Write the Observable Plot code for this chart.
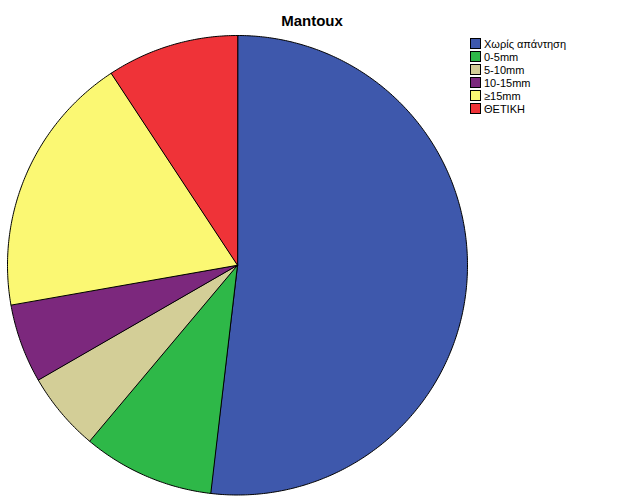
<!DOCTYPE html>
<html>
<head>
<meta charset="utf-8">
<script src="https://cdn.jsdelivr.net/npm/d3@7"></script>
<script src="https://cdn.jsdelivr.net/npm/@observablehq/plot@0.6"></script>
<style>
  body { margin: 0; background: #fff; font-family: Arial, "Liberation Sans", sans-serif; }
  #wrap { position: relative; width: 626px; height: 501px; }
  #title { position: absolute; left: 212px; width: 200px; top: 12px; text-align: center; font-weight: bold; font-size: 15px; color: #000; }
  #legend { position: absolute; left: 470px; top: 37px; font-size: 11px; color: #000; }
  .row { display: flex; align-items: center; height: 13px; }
  .sw { width: 9px; height: 9px; border: 1px solid #000; margin-right: 3px; box-sizing: content-box; }
</style>
</head>
<body>
<div id="wrap">
  <div id="chart"></div>
  <div id="title">Mantoux</div>
  <div id="legend"></div>
</div>
<script>
const categories = ["Χωρίς απάντηση", "0-5mm", "5-10mm", "10-15mm", "≥15mm", "ΘΕΤΙΚΗ"];
const counts = [28, 5, 3, 3, 10, 5];
const colors = ["#3E58AC", "#2EB848", "#D3CE97", "#7C287D", "#FBF873", "#EF3338"];

const pie = d3.pie().sort(null).value(d => d.value);
const arcs = pie(categories.map((c, i) => ({category: c, value: counts[i]})));

const pts = [];
for (const a of arcs) {
  const c = a.data.category;
  pts.push({category: c, x: 0, y: 0});
  const n = Math.max(4, Math.ceil((a.endAngle - a.startAngle) / 0.01));
  for (let k = 0; k <= n; k++) {
    const t = a.startAngle + (a.endAngle - a.startAngle) * k / n;
    pts.push({category: c, x: Math.sin(t), y: Math.cos(t)});
  }
}

const chart = Plot.plot({
  width: 626,
  height: 501,
  margin: 0,
  x: {domain: [-1, 1], range: [7, 467], axis: null},
  y: {domain: [-1, 1], range: [494.5, 35], axis: null},
  color: {domain: categories, range: colors},
  style: {background: "#fff"},
  marks: [
    Plot.line(pts, {x: "x", y: "y", z: "category", fill: "category", stroke: "#000", strokeWidth: 1, curve: "linear-closed"})
  ]
});
document.getElementById("chart").appendChild(chart);

const lg = document.getElementById("legend");
categories.forEach((c, i) => {
  const r = document.createElement("div");
  r.className = "row";
  const s = document.createElement("div");
  s.className = "sw";
  s.style.background = colors[i];
  const t = document.createElement("span");
  t.textContent = c;
  r.appendChild(s); r.appendChild(t);
  lg.appendChild(r);
});
</script>
</body>
</html>
